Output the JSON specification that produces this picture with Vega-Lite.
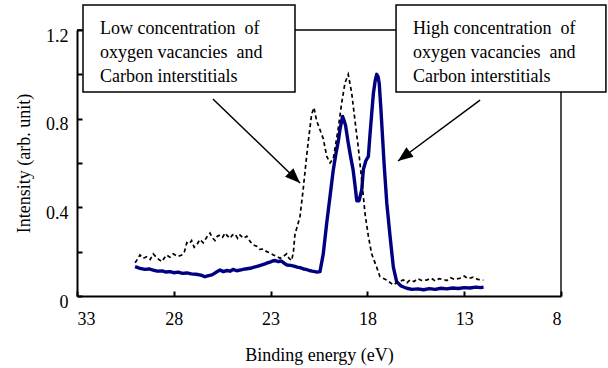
{
  "$schema": "https://vega.github.io/schema/vega-lite/v6.json",
  "width": 484,
  "height": 266,
  "autosize": {"type": "none"},
  "padding": {"left": 77, "top": 30, "right": 47, "bottom": 72},
  "background": "white",
  "config": {
    "font": "'Liberation Serif', 'Times New Roman', serif",
    "view": {"stroke": null},
    "text": {"font": "'Liberation Serif', 'Times New Roman', serif"},
    "axis": {
      "labelFont": "'Liberation Serif', 'Times New Roman', serif",
      "titleFont": "'Liberation Serif', 'Times New Roman', serif",
      "labelFontSize": 18,
      "titleFontSize": 18,
      "titleFontWeight": "normal",
      "labelColor": "black",
      "titleColor": "black",
      "domainColor": "black",
      "tickColor": "black",
      "domainWidth": 2,
      "tickWidth": 2,
      "tickSize": -5,
      "grid": false
    }
  },
  "datasets": {
    "high": [
      {"E": 30.0, "I": 0.132}, {"E": 29.75, "I": 0.125}, {"E": 29.49, "I": 0.12}, {"E": 29.28, "I": 0.122},
      {"E": 29.07, "I": 0.117}, {"E": 28.85, "I": 0.112}, {"E": 28.6, "I": 0.113}, {"E": 28.4, "I": 0.108},
      {"E": 28.2, "I": 0.11}, {"E": 28.0, "I": 0.105}, {"E": 27.78, "I": 0.108}, {"E": 27.55, "I": 0.102},
      {"E": 27.32, "I": 0.104}, {"E": 27.1, "I": 0.1}, {"E": 26.85, "I": 0.098}, {"E": 26.6, "I": 0.094},
      {"E": 26.39, "I": 0.087}, {"E": 26.2, "I": 0.092}, {"E": 26.03, "I": 0.095}, {"E": 25.8, "I": 0.108},
      {"E": 25.61, "I": 0.117}, {"E": 25.45, "I": 0.11}, {"E": 25.25, "I": 0.115}, {"E": 25.1, "I": 0.112},
      {"E": 24.94, "I": 0.12}, {"E": 24.75, "I": 0.114}, {"E": 24.53, "I": 0.118}, {"E": 24.3, "I": 0.122},
      {"E": 24.06, "I": 0.125}, {"E": 23.85, "I": 0.13}, {"E": 23.65, "I": 0.135}, {"E": 23.45, "I": 0.14},
      {"E": 23.29, "I": 0.145}, {"E": 23.15, "I": 0.15}, {"E": 23.03, "I": 0.153}, {"E": 22.9, "I": 0.158},
      {"E": 22.77, "I": 0.16}, {"E": 22.6, "I": 0.155}, {"E": 22.46, "I": 0.158}, {"E": 22.3, "I": 0.148},
      {"E": 22.15, "I": 0.14}, {"E": 21.97, "I": 0.138}, {"E": 21.79, "I": 0.135}, {"E": 21.63, "I": 0.13},
      {"E": 21.48, "I": 0.128}, {"E": 21.3, "I": 0.122}, {"E": 21.17, "I": 0.12}, {"E": 21.0, "I": 0.115},
      {"E": 20.86, "I": 0.112}, {"E": 20.72, "I": 0.11}, {"E": 20.6, "I": 0.108}, {"E": 20.45, "I": 0.11},
      {"E": 20.28, "I": 0.19}, {"E": 20.1, "I": 0.33}, {"E": 19.93, "I": 0.45}, {"E": 19.76, "I": 0.57},
      {"E": 19.63, "I": 0.64}, {"E": 19.5, "I": 0.7}, {"E": 19.4, "I": 0.76}, {"E": 19.28, "I": 0.81},
      {"E": 19.2, "I": 0.79}, {"E": 19.13, "I": 0.77}, {"E": 18.99, "I": 0.69}, {"E": 18.87, "I": 0.63},
      {"E": 18.74, "I": 0.57}, {"E": 18.64, "I": 0.5}, {"E": 18.55, "I": 0.43}, {"E": 18.43, "I": 0.43},
      {"E": 18.29, "I": 0.48}, {"E": 18.21, "I": 0.57}, {"E": 18.08, "I": 0.61}, {"E": 17.95, "I": 0.63},
      {"E": 17.86, "I": 0.735}, {"E": 17.78, "I": 0.82}, {"E": 17.69, "I": 0.915}, {"E": 17.6, "I": 0.97},
      {"E": 17.52, "I": 1.0}, {"E": 17.45, "I": 0.99}, {"E": 17.39, "I": 0.96}, {"E": 17.3, "I": 0.84},
      {"E": 17.22, "I": 0.72}, {"E": 17.14, "I": 0.6}, {"E": 17.0, "I": 0.42}, {"E": 16.83, "I": 0.27},
      {"E": 16.66, "I": 0.13}, {"E": 16.49, "I": 0.065}, {"E": 16.26, "I": 0.045}, {"E": 15.97, "I": 0.035},
      {"E": 15.7, "I": 0.03}, {"E": 15.4, "I": 0.032}, {"E": 15.1, "I": 0.028}, {"E": 14.8, "I": 0.033},
      {"E": 14.5, "I": 0.03}, {"E": 14.2, "I": 0.035}, {"E": 13.9, "I": 0.032}, {"E": 13.6, "I": 0.036},
      {"E": 13.3, "I": 0.034}, {"E": 13.0, "I": 0.038}, {"E": 12.7, "I": 0.036}, {"E": 12.4, "I": 0.04},
      {"E": 12.15, "I": 0.038}, {"E": 12.0, "I": 0.04}
    ],
    "low": [
      {"E": 30.0, "I": 0.15}, {"E": 29.92, "I": 0.16}, {"E": 29.75, "I": 0.185}, {"E": 29.58, "I": 0.17},
      {"E": 29.4, "I": 0.177}, {"E": 29.22, "I": 0.165}, {"E": 29.06, "I": 0.19}, {"E": 28.85, "I": 0.17},
      {"E": 28.62, "I": 0.155}, {"E": 28.5, "I": 0.17}, {"E": 28.37, "I": 0.185}, {"E": 28.2, "I": 0.175},
      {"E": 28.03, "I": 0.19}, {"E": 27.8, "I": 0.178}, {"E": 27.59, "I": 0.185}, {"E": 27.45, "I": 0.2},
      {"E": 27.33, "I": 0.24}, {"E": 27.2, "I": 0.235}, {"E": 27.08, "I": 0.25}, {"E": 26.95, "I": 0.22},
      {"E": 26.82, "I": 0.23}, {"E": 26.65, "I": 0.255}, {"E": 26.48, "I": 0.24}, {"E": 26.3, "I": 0.265},
      {"E": 26.13, "I": 0.284}, {"E": 26.0, "I": 0.262}, {"E": 25.87, "I": 0.25}, {"E": 25.75, "I": 0.27},
      {"E": 25.61, "I": 0.275}, {"E": 25.48, "I": 0.265}, {"E": 25.35, "I": 0.284}, {"E": 25.22, "I": 0.27},
      {"E": 25.1, "I": 0.26}, {"E": 24.97, "I": 0.275}, {"E": 24.84, "I": 0.28}, {"E": 24.7, "I": 0.26},
      {"E": 24.58, "I": 0.275}, {"E": 24.4, "I": 0.26}, {"E": 24.23, "I": 0.27}, {"E": 24.05, "I": 0.245},
      {"E": 23.89, "I": 0.23}, {"E": 23.72, "I": 0.225}, {"E": 23.55, "I": 0.21}, {"E": 23.38, "I": 0.212},
      {"E": 23.2, "I": 0.2}, {"E": 23.03, "I": 0.195}, {"E": 22.86, "I": 0.185}, {"E": 22.7, "I": 0.18},
      {"E": 22.51, "I": 0.17}, {"E": 22.35, "I": 0.178}, {"E": 22.17, "I": 0.19}, {"E": 22.05, "I": 0.17},
      {"E": 21.91, "I": 0.16}, {"E": 21.82, "I": 0.2}, {"E": 21.74, "I": 0.28}, {"E": 21.6, "I": 0.32},
      {"E": 21.48, "I": 0.36}, {"E": 21.33, "I": 0.47}, {"E": 21.14, "I": 0.63}, {"E": 21.05, "I": 0.7},
      {"E": 20.88, "I": 0.82}, {"E": 20.76, "I": 0.85}, {"E": 20.62, "I": 0.79}, {"E": 20.45, "I": 0.75},
      {"E": 20.28, "I": 0.71}, {"E": 20.1, "I": 0.63}, {"E": 19.93, "I": 0.6}, {"E": 19.76, "I": 0.62},
      {"E": 19.63, "I": 0.69}, {"E": 19.5, "I": 0.76}, {"E": 19.33, "I": 0.87}, {"E": 19.16, "I": 0.96},
      {"E": 18.99, "I": 1.0}, {"E": 18.81, "I": 0.915}, {"E": 18.64, "I": 0.79}, {"E": 18.47, "I": 0.67},
      {"E": 18.29, "I": 0.52}, {"E": 18.12, "I": 0.37}, {"E": 17.95, "I": 0.27}, {"E": 17.78, "I": 0.19},
      {"E": 17.52, "I": 0.13}, {"E": 17.35, "I": 0.087}, {"E": 17.0, "I": 0.072}, {"E": 16.66, "I": 0.05},
      {"E": 16.4, "I": 0.065}, {"E": 16.14, "I": 0.072}, {"E": 15.95, "I": 0.06}, {"E": 15.8, "I": 0.072},
      {"E": 15.6, "I": 0.065}, {"E": 15.4, "I": 0.078}, {"E": 15.2, "I": 0.07}, {"E": 14.94, "I": 0.072},
      {"E": 14.7, "I": 0.08}, {"E": 14.5, "I": 0.068}, {"E": 14.3, "I": 0.078}, {"E": 14.08, "I": 0.075},
      {"E": 13.9, "I": 0.07}, {"E": 13.7, "I": 0.082}, {"E": 13.5, "I": 0.075}, {"E": 13.22, "I": 0.08},
      {"E": 13.0, "I": 0.09}, {"E": 12.8, "I": 0.078}, {"E": 12.53, "I": 0.085}, {"E": 12.3, "I": 0.075},
      {"E": 12.01, "I": 0.072}
    ],
    "boxes": [
      {"E1": 32.69, "E2": 21.74, "I1": 1.313, "I2": 0.92},
      {"E1": 16.52, "E2": 5.68, "I1": 1.313, "I2": 0.92}
    ],
    "texts": [
      {"E": 31.81, "I": 1.204, "t": "Low concentration\u00a0 of"},
      {"E": 31.81, "I": 1.096, "t": "oxygen vacancies\u00a0 and"},
      {"E": 31.81, "I": 0.988, "t": "Carbon interstitials"},
      {"E": 15.64, "I": 1.204, "t": "High concentration\u00a0 of"},
      {"E": 15.64, "I": 1.096, "t": "oxygen vacancies\u00a0 and"},
      {"E": 15.64, "I": 0.988, "t": "Carbon interstitials"}
    ],
    "arrows": [
      {"E1": 25.98, "I1": 0.889, "E2": 21.48, "I2": 0.51, "ang": 134},
      {"E1": 12.18, "I1": 0.884, "E2": 16.42, "I2": 0.609, "ang": 233}
    ]
  },
  "layer": [
    {
      "data": {"values": [{"E": 8}]},
      "mark": {"type": "rule", "color": "black", "strokeWidth": 1.4},
      "encoding": {
        "x": {
          "field": "E", "type": "quantitative",
          "scale": {"domain": [8, 33], "reverse": true, "nice": false, "zero": false},
          "axis": {"values": [33, 28, 23, 18, 13, 8], "title": "Binding energy (eV)", "labelPadding": 19, "titlePadding": 18}
        }
      }
    },
    {
      "data": {"values": [{"I": 1.2}]},
      "mark": {"type": "rule", "color": "black", "strokeWidth": 1.4},
      "encoding": {
        "y": {
          "field": "I", "type": "quantitative",
          "scale": {"domain": [0, 1.2], "nice": false},
          "axis": {
            "values": [0, 0.2, 0.4, 0.6, 0.8, 1.0, 1.2],
            "format": ".1~f",
            "labelExpr": "indexof(['0','0.4','0.8','1.2'], datum.label) >= 0 ? datum.label : ''",
            "title": "Intensity (arb. unit)",
            "labelPadding": 14,
            "labelOffset": 6,
            "titlePadding": 12
          }
        }
      }
    },
    {
      "data": {"name": "high"},
      "mark": {"type": "line", "color": "#000080", "strokeWidth": 3.4, "strokeJoin": "round"},
      "encoding": {
        "x": {"field": "E", "type": "quantitative"},
        "y": {"field": "I", "type": "quantitative"},
        "order": {"field": "E", "sort": "descending"}
      }
    },
    {
      "data": {"name": "low"},
      "mark": {"type": "line", "color": "black", "strokeWidth": 1.7, "strokeDash": [4, 3]},
      "encoding": {
        "x": {"field": "E", "type": "quantitative"},
        "y": {"field": "I", "type": "quantitative"},
        "order": {"field": "E", "sort": "descending"}
      }
    },
    {
      "data": {"name": "boxes"},
      "mark": {"type": "rect", "fill": "white", "stroke": "black", "strokeWidth": 1.5, "clip": false},
      "encoding": {
        "x": {"field": "E1", "type": "quantitative"},
        "x2": {"field": "E2"},
        "y": {"field": "I1", "type": "quantitative"},
        "y2": {"field": "I2"}
      }
    },
    {
      "data": {"name": "texts"},
      "mark": {"type": "text", "align": "left", "baseline": "middle", "fontSize": 18, "color": "black"},
      "encoding": {
        "x": {"field": "E", "type": "quantitative"},
        "y": {"field": "I", "type": "quantitative"},
        "text": {"field": "t"}
      }
    },
    {
      "data": {"name": "arrows"},
      "mark": {"type": "rule", "color": "black", "strokeWidth": 1.5},
      "encoding": {
        "x": {"field": "E1", "type": "quantitative"},
        "y": {"field": "I1", "type": "quantitative"},
        "x2": {"field": "E2"},
        "y2": {"field": "I2"}
      }
    },
    {
      "data": {"name": "arrows"},
      "mark": {"type": "point", "shape": "M0,0L0.4,1L-0.4,1Z", "filled": true, "color": "black", "size": 900, "opacity": 1},
      "encoding": {
        "x": {"field": "E2", "type": "quantitative"},
        "y": {"field": "I2", "type": "quantitative"},
        "angle": {"field": "ang", "type": "quantitative", "scale": null}
      }
    }
  ]
}
